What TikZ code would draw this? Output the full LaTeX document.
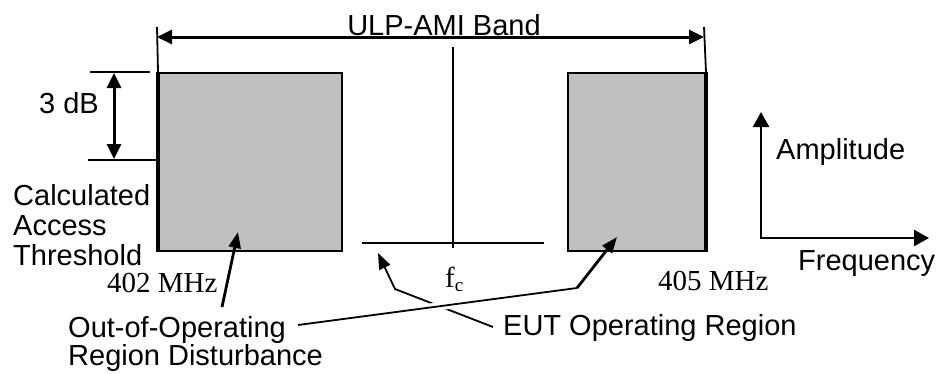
\documentclass[tikz,border=0pt]{standalone}
\usepackage{fontspec}
\setmainfont{Liberation Sans}
\newfontfamily\timesf{Liberation Serif}
\usetikzlibrary{arrows.meta}
\definecolor{boxgray}{HTML}{C0C0C0}
\begin{document}
\begin{tikzpicture}[x=1pt,y=-1pt,
  lbl/.style={inner sep=0pt, font=\fontsize{29}{30}\selectfont},
  tlbl/.style={inner sep=0pt, font=\timesf\fontsize{29}{30}\selectfont},
  thinline/.style={line width=1.8pt},
  leadarrow/.style={-{Triangle[length=16pt,width=12pt]}},
  spec/.style={draw, fill=boxgray, line width=2pt, inner sep=0pt, anchor=north west}]
\useasboundingbox (0,0) rectangle (939,373);

% spectrum boxes
\node[spec, minimum width=183pt, minimum height=178pt] (L) at (158,72) {};
\node[spec, minimum width=137pt, minimum height=178pt] (R) at (567,72) {};
\draw[line width=4pt] (L.north west) -- (L.south west);
\draw[line width=4pt] (R.north east) -- (R.south east);

% band arrow
\coordinate (tickL) at (157,27);
\coordinate (tickR) at (704,27);
\coordinate (bandL) at (157,37);
\coordinate (bandR) at (704,37);
\draw[thinline] (tickL) -- (L.north west);
\draw[thinline] (tickR) -- (R.north east);
\draw[line width=3pt, {Triangle[length=15pt,width=14pt]}-{Triangle[length=15pt,width=14pt]}] (bandL) -- (bandR);
\node[lbl, anchor=base] (band) at (444,35) {ULP-AMI Band};

% 3 dB
\coordinate (dbT1) at (90,72);
\coordinate (dbT2) at (150,72);
\coordinate (dbB1) at (88,160);
\coordinate (dbB2) at (157,160);
\draw[thinline] (dbT1) -- (dbT2);
\draw[thinline] (dbB1) -- (dbB2);
\coordinate (dbA) at (114,73);
\coordinate (dbB) at (114,159);
\draw[line width=3pt, {Triangle[length=15pt,width=14pt]}-{Triangle[length=15pt,width=14pt]}] (dbA) -- (dbB);
\node[lbl, anchor=base west] (db) at (39,113) {3 dB};

% threshold label
\node[lbl, anchor=base west] (calc) at (13,205) {Calculated};
\node[lbl, anchor=base west] (acc) at (13,235) {Access};
\node[lbl, anchor=base west] (thr) at (13,265) {Threshold};

% EUT operating region
\coordinate (fcT) at (453,47);
\coordinate (fcB) at (453,248);
\coordinate (opL) at (362,243);
\coordinate (opR) at (544,243);
\draw[thinline] (fcT) -- (fcB);
\draw[line width=2.3pt] (opL) -- (opR);
\node[tlbl, anchor=base west] (fc) at (445,287) {f\raisebox{-0.3ex}{\fontsize{19}{20}\selectfont c}};

% frequency labels
\node[tlbl, anchor=base west] (f402) at (107,292) {402 MHz};
\node[tlbl, anchor=base west] (f405) at (658,290) {405 MHz};

% axes
\coordinate (ampT) at (761,112);
\coordinate (org) at (761,238);
\coordinate (frqT) at (929,238);
\draw[line width=2.5pt, {Triangle[length=15pt,width=16pt]}-{Triangle[length=15pt,width=16pt]}] (ampT) -- (org) -- (frqT);
\node[lbl, anchor=base west] (amp) at (776,159) {Amplitude};
\node[lbl, anchor=base west] (frq) at (798,270) {Frequency};

% bottom labels
\node[lbl, anchor=base west] (out1) at (68,337) {Out-of-Operating};
\node[lbl, anchor=base west] (out2) at (68,365) {Region Disturbance};
\node[lbl, anchor=base west] (eut) at (503,335) {EUT Operating Region};

% EUT leader
\coordinate (eutS) at (493,327);
\coordinate (eutK) at (395,289);
\coordinate (eutT) at (378,253);
\draw[thinline, leadarrow] (eutS) -- (eutK) -- (eutT);

% out-of-operating leaders
\coordinate (outA) at (222,307);
\coordinate (outAT) at (238,232);
\draw[line width=2.8pt, leadarrow] (outA) -- (outAT);
\coordinate (outS) at (298,325);
\coordinate (outK) at (577,288);
\coordinate (outT) at (617,237);
\draw[thinline, preaction={draw=white, line width=8pt}] (outS) -- (outK);
\draw[line width=2.8pt, leadarrow] (outK) -- (outT);
\end{tikzpicture}
\end{document}
